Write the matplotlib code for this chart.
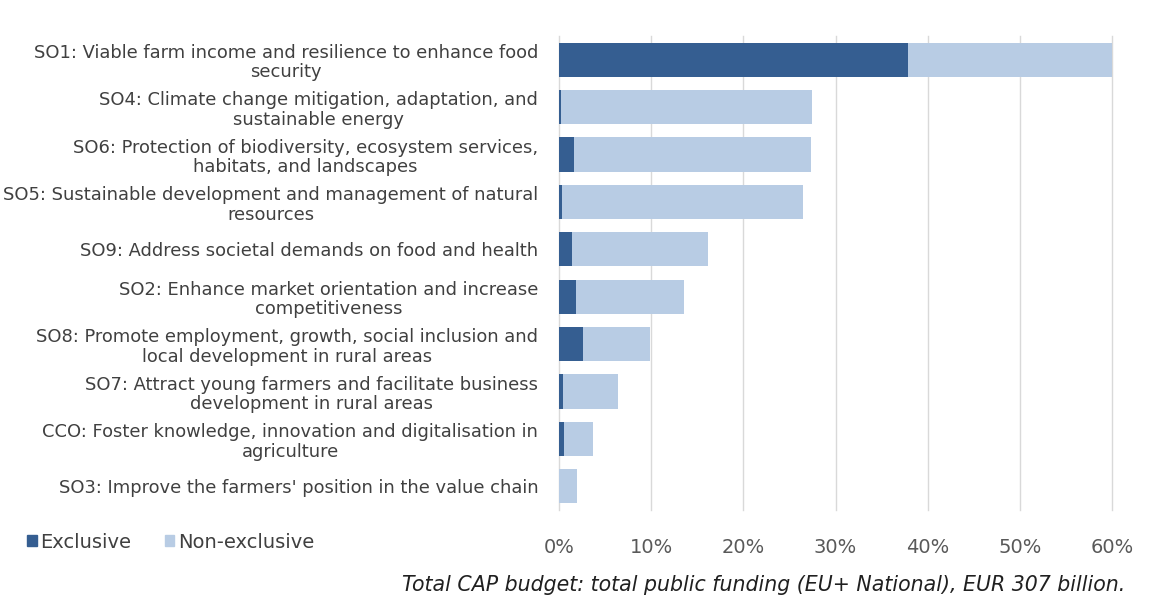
import matplotlib
matplotlib.use("Agg")
import matplotlib.pyplot as plt
from matplotlib.ticker import FuncFormatter
from matplotlib.patches import Patch

# Share of total CAP budget (%) per specific objective
objectives = [
    "SO1: Viable farm income and resilience to enhance food\nsecurity",
    "SO4: Climate change mitigation, adaptation, and\nsustainable energy",
    "SO6: Protection of biodiversity, ecosystem services,\nhabitats, and landscapes",
    "SO5: Sustainable development and management of natural\nresources",
    "SO9: Address societal demands on food and health",
    "SO2: Enhance market orientation and increase\ncompetitiveness",
    "SO8: Promote employment, growth, social inclusion and\nlocal development in rural areas",
    "SO7: Attract young farmers and facilitate business\ndevelopment in rural areas",
    "CCO: Foster knowledge, innovation and digitalisation in\nagriculture",
    "SO3: Improve the farmers' position in the value chain",
]
exclusive = [37.9, 0.2, 1.65, 0.3, 1.4, 1.8, 2.6, 0.4, 0.5, 0.05]
non_exclusive = [22.1, 27.3, 25.65, 26.2, 14.8, 11.8, 7.3, 6.0, 3.15, 1.85]
xticks = [0, 10, 20, 30, 40, 50, 60]

dark = "#355E91"
light = "#B8CCE4"
text_col = "#404040"

fig = plt.figure(figsize=(11.5, 6.03), dpi=100)
ax = fig.add_axes([559 / 1150, 1 - 510 / 603, (1112 - 559) / 1150, (510 - 36) / 603])

y = list(range(len(objectives)))
ax.barh(y, exclusive, height=0.72, color=dark, zorder=3)
ax.barh(y, non_exclusive, left=exclusive, height=0.72, color=light, zorder=3)

ax.set_ylim(len(objectives) - 0.5, -0.5)
ax.set_xlim(0, 60)
ax.set_xticks(xticks)
ax.xaxis.set_major_formatter(FuncFormatter(lambda v, p: f"{v:.0f}%"))
ax.grid(axis="x", color="#D9D9D9", linewidth=1.0, zorder=0)
for gl in ax.get_xgridlines():
    gl.set_clip_on(False)
ax.set_axisbelow(True)
for s in ax.spines.values():
    s.set_visible(False)

ax.set_yticks(y)
ax.set_yticklabels(objectives, fontsize=12.9, color=text_col, family="DejaVu Sans",
                   linespacing=1.12)
for t in ax.get_yticklabels():
    t.set_multialignment("center")
ax.tick_params(axis="y", length=0, pad=15)
ax.tick_params(axis="x", length=0, pad=20, labelsize=14, labelcolor="#595959")

handles = [Patch(color=dark, label="Exclusive"), Patch(color=light, label="Non-exclusive")]
fig.legend(handles=handles, loc="center left", bbox_to_anchor=(27 / 1150, 1 - 542 / 603),
           ncol=2, frameon=False, fontsize=14, handlelength=0.5, handleheight=0.5,
           handletextpad=0.2, columnspacing=1.7, labelcolor="#404040",
           borderaxespad=0, borderpad=0)

fig.text(1125 / 1150, 1 - 585 / 603,
         "Total CAP budget: total public funding (EU+ National), EUR 307 billion.",
         ha="right", va="center", fontsize=14.8, style="italic", color="#202020")

fig.savefig("out.png", dpi=100, facecolor="white")
